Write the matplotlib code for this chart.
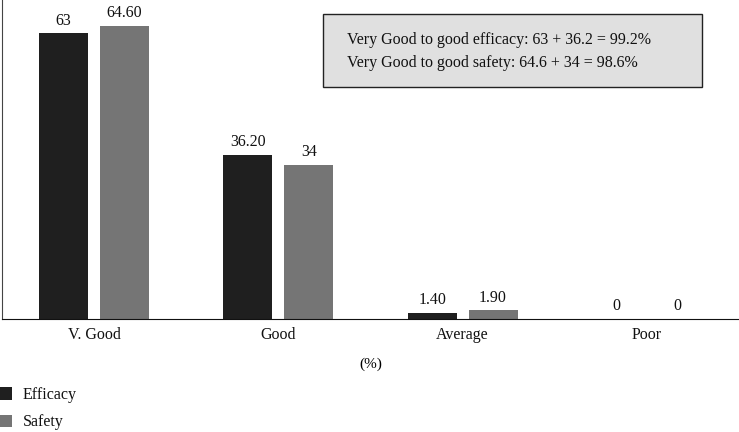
import matplotlib
matplotlib.use('Agg')
import matplotlib.pyplot as plt
from matplotlib.patches import Rectangle, Patch
import numpy as np

categories = ['V. Good', 'Good', 'Average', 'Poor']
efficacy = [63, 36.2, 1.4, 0]
safety = [64.6, 34, 1.9, 0]
eff_labels = ['63', '36.20', '1.40', '0']
saf_labels = ['64.60', '34', '1.90', '0']
box_lines = ['Very Good to good efficacy: 63 + 36.2 = 99.2%',
             'Very Good to good safety: 64.6 + 34 = 98.6%']

DARK = '#1f1f1f'; GREY = '#757575'; INK = '#111111'
plt.rcParams.update({'font.family': 'Liberation Serif', 'font.size': 11,
                     'text.color': INK, 'xtick.color': INK})

W, H = 739, 432
fig = plt.figure(figsize=(W/100, H/100), dpi=100)
ax = fig.add_axes([2/W, 1-319/H, 737/W, 319/H])

x = np.arange(len(categories))
bw = 0.266; off = 0.165
b1 = ax.bar(x - off, efficacy, bw, color=DARK)
b2 = ax.bar(x + off, safety, bw, color=GREY)
for bars, labs in ((b1, eff_labels), (b2, saf_labels)):
    for b, t in zip(bars, labs):
        ax.text(b.get_x() + b.get_width()/2, b.get_height() + 1.0, t,
                ha='center', va='bottom', fontsize=11.5)

ax.set_xlim(-0.5, 3.5)
ax.set_ylim(0, 70.3)
ax.set_xticks(x)
ax.set_xticklabels(categories, fontsize=11.5)
ax.tick_params(axis='x', length=0, pad=6)
ax.set_yticks([])
ax.set_xlabel('(%)', fontsize=11, labelpad=10)
for s in ['top', 'right']:
    ax.spines[s].set_visible(False)
ax.spines['left'].set_color('#444444')
ax.spines['bottom'].set_color('#111111')

# summary box
fig.patches.append(Rectangle((323/W, 1-87/H), 379/W, 73/H, transform=fig.transFigure,
                             facecolor='#e0e0e0', edgecolor='#222222', lw=1))
for i, line in enumerate(box_lines):
    fig.text(347/W, 1-(40+23*i)/H, line, ha='left', va='center', fontsize=11.5)

handles = [Patch(facecolor=DARK, label='Efficacy'), Patch(facecolor=GREY, label='Safety')]
fig.legend(handles=handles, loc='lower left', bbox_to_anchor=(-0.007, -0.007),
           borderaxespad=0.0, borderpad=0.3,
           frameon=False, handlelength=0.8, handleheight=0.8, labelspacing=0.7,
           handletextpad=0.65, fontsize=11.5)

fig.savefig('out.png', dpi=100, facecolor='white')
